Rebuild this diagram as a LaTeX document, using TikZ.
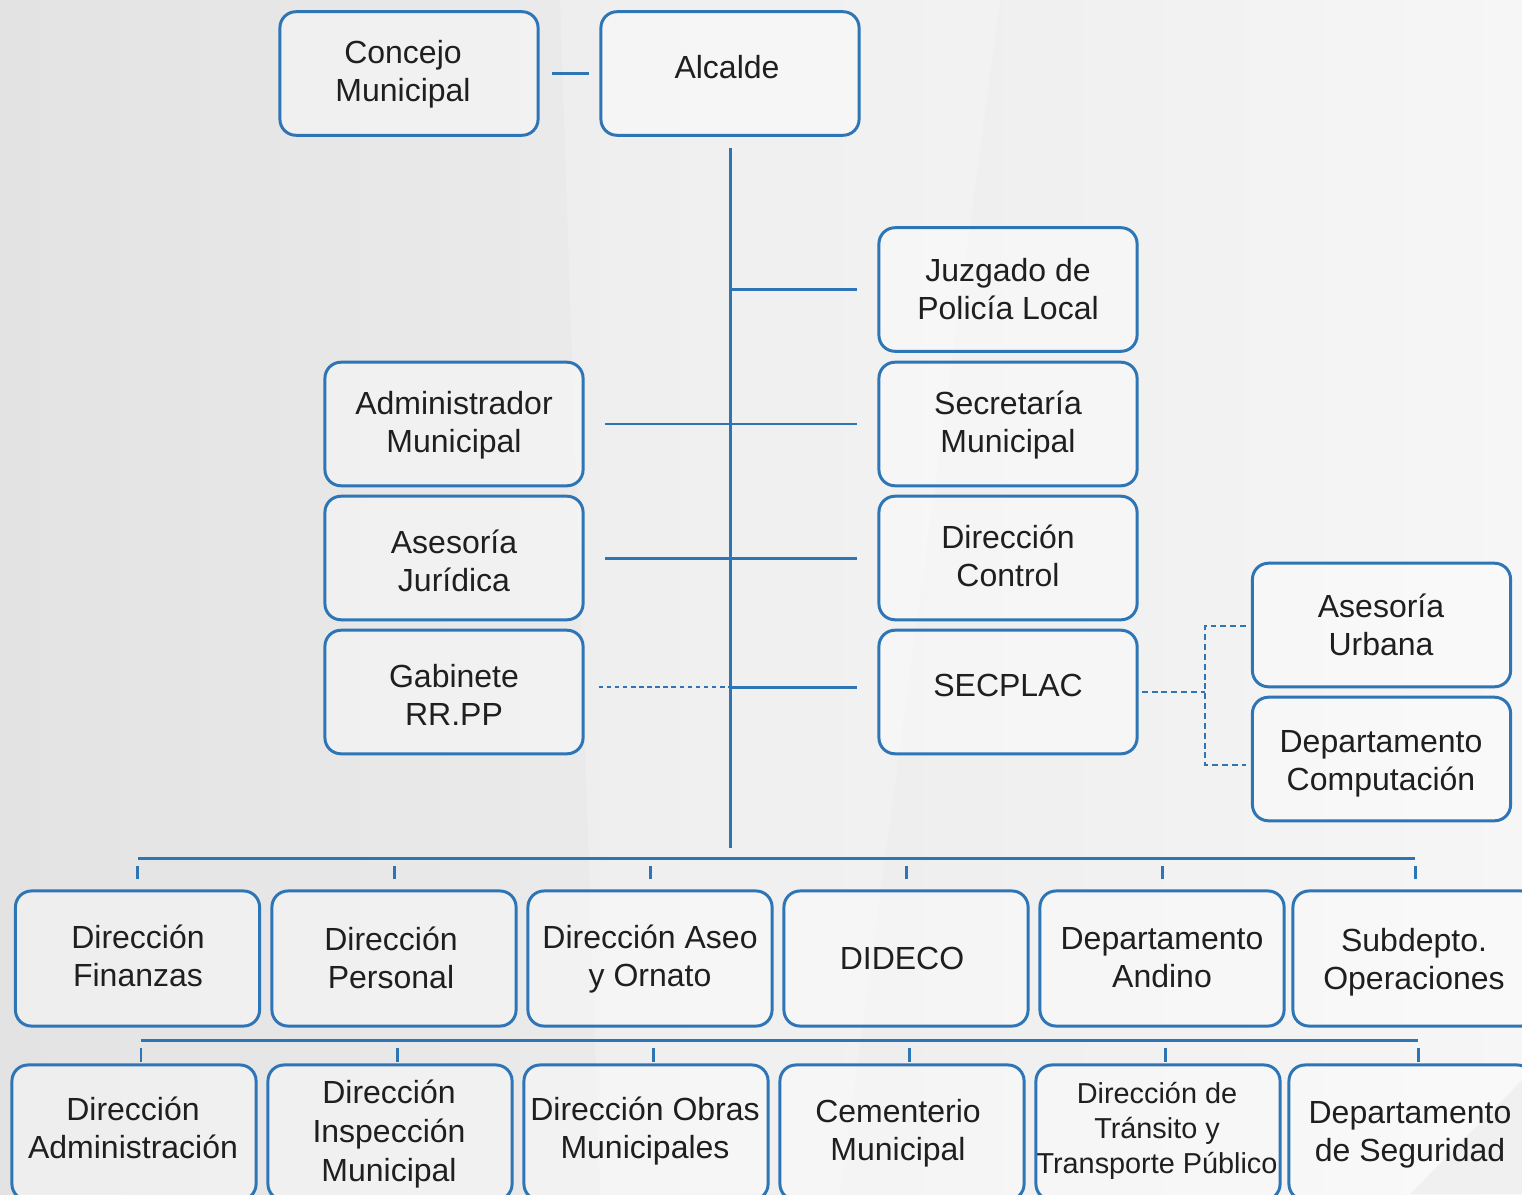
\documentclass[tikz,border=0pt]{standalone}
\usepackage{fontspec}
\setmainfont{Liberation Sans}
\usetikzlibrary{calc}
\definecolor{bblue}{HTML}{2E75B6}
\definecolor{bgl}{HTML}{E3E3E3}
\definecolor{bgr}{HTML}{F6F6F6}
\begin{document}
\begin{tikzpicture}[x=0.01cm,y=-0.01cm,
  box/.style={draw=bblue, line width=0.85pt, rounded corners=0.16cm, fill=white, fill opacity=0.4, inner sep=0},
  tb/.style={box, minimum width=2.58cm, minimum height=1.235cm},
  rb/.style={box, minimum width=2.44cm, minimum height=1.35cm},
  lbl/.style={font=\fontsize{9.1}{10.8}\selectfont, align=center, inner sep=0, text=black!88},
  slbl/.style={lbl, font=\fontsize{8.2}{10}\selectfont},
  conn/.style={draw=bblue, line width=0.85pt},
  dotl/.style={conn, line width=0.8pt, dash pattern=on 1.3pt off 1.0pt},
  dashl/.style={conn, line width=0.8pt, dash pattern=on 1.7pt off 1.1pt}]
\useasboundingbox (0,0) rectangle (1522,1194);
\clip (0,0) rectangle (1522,1194);
% background
\fill[left color=bgl, right color=bgr] (0,0) rectangle (1522,1194);
\fill[white, opacity=0.22] (560,0) -- (1000,0) -- (840,1194) -- (600,1194) -- cycle;
\fill[black, opacity=0.06] (1522,1080) -- (1522,1194) -- (1410,1194) -- cycle;
% boxes
\node[tb] (conc) at (409,73.5) {};
\node[tb] (alc) at (730,73.5) {};
\node[tb] (juz) at (1008,289.5) {};
\node[tb] (sec) at (1008,424) {};
\node[tb] (ctl) at (1008,558) {};
\node[tb] (secp) at (1008,692) {};
\node[tb] (adm) at (454,424) {};
\node[tb] (jur) at (454,558) {};
\node[tb] (gab) at (454,692) {};
\node[tb] (au) at (1381.5,625) {};
\node[tb] (dc) at (1381.5,759) {};
\node[rb] (f1) at (137.5,958.5) {};
\node[rb] (f2) at (394,958.5) {};
\node[rb] (f3) at (650,958.5) {};
\node[rb] (f4) at (906,958.5) {};
\node[rb] (f5) at (1162,958.5) {};
\node[rb] (f6) at (1415,958.5) {};
\node[rb] (a1) at (134,1132.5) {};
\node[rb] (a2) at (390,1132.5) {};
\node[rb] (a3) at (646,1132.5) {};
\node[rb] (a4) at (902,1132.5) {};
\node[rb] (a5) at (1158,1132.5) {};
\node[rb] (a6) at (1411,1132.5) {};
% labels
\node[lbl] (tconc) at (403,74) {Concejo\\Municipal};
\node[lbl] (talc) at (727,67) {Alcalde};
\node[lbl] (tjuz) at (1008,289) {Juzgado de\\Policía Local};
\node[lbl] (tsec) at (1008,425) {Secretaría\\Municipal};
\node[lbl] (tctl) at (1008,556) {Dirección\\Control};
\node[lbl] (tsecp) at (1008,685) {SECPLAC};
\node[lbl] (tadm) at (454,425) {Administrador\\Municipal};
\node[lbl] (tjur) at (454,561) {Asesoría\\Jurídica};
\node[lbl] (tgab) at (454,695) {Gabinete\\RR.PP};
\node[lbl] (tau) at (1381,625) {Asesoría\\Urbana};
\node[lbl] (tdc) at (1381,764) {Departamento\\Computación};
\node[lbl] (tf1) at (138,956) {Dirección\\Finanzas};
\node[lbl] (tf2) at (391,958) {Dirección\\Personal};
\node[lbl] (tf3) at (650,959) {Dirección Aseo\\y Ornato};
\node[lbl] (tf4) at (902,958) {DIDECO};
\node[lbl] (tf5) at (1162,958) {Departamento\\Andino};
\node[lbl] (tf6) at (1414,962) {Subdepto.\\Operaciones};
\node[lbl] (ta1) at (133,1128) {Dirección\\Administración};
\node[lbl,font=\fontsize{9.1}{11}\selectfont] (ta2) at (389,1134) {Dirección\\Inspección\\Municipal};
\node[lbl] (ta3) at (645,1131) {Dirección Obras\\Municipales};
\node[lbl] (ta4) at (898,1133) {Cementerio\\Municipal};
\node[slbl] (ta5) at (1157,1131) {Dirección de\\Tránsito y\\Transporte Público};
\node[lbl] (ta6) at (1410,1135) {Departamento\\de Seguridad};
% connectors
\draw[conn, shorten <=3.4pt, shorten >=3.1pt] (conc.east) -- (alc.west);
\coordinate (b1) at (730,858);
\draw[conn, shorten <=3.3pt, shorten >=2.85pt] (alc.south) -- (b1);
\draw[conn, shorten >=5.7pt] (alc.south |- juz.west) -- (juz.west);
\draw[conn, shorten <=5.9pt, shorten >=5.7pt] (adm.east) -- (sec.west);
\draw[conn, shorten <=5.9pt, shorten >=5.7pt] (jur.east) -- (ctl.west);
\coordinate (gj) at (730,687);
\draw[dotl, shorten <=4pt] (gab.east |- gj) -- (gj);
\draw[conn, shorten >=5.7pt] (gj) -- (secp.west |- gj);
\coordinate (sj) at (1205,692);
\coordinate (sjt) at (1205,626);
\coordinate (sjb) at (1205,765);
\draw[dashl, shorten <=0.9pt] (secp.east |- sj) -- (sj);
\draw[dashl, shorten <=1.4pt, shorten >=1.4pt] (sjt -| au.west) -- (sjt) -- (sjb) -- (sjb -| dc.west);
% row 1 bus
\draw[conn] (f1.north |- b1) -- (f6.north |- b1);
\foreach \n in {f1,f2,f3,f4,f5,f6}
  \draw[conn, shorten <=2.85pt, shorten >=2.3pt] (\n.north) -- (\n.north |- b1);
% row 2 bus
\coordinate (k1) at (141,1040);
\coordinate (k2) at (397,1040);
\coordinate (k3) at (653,1040);
\coordinate (k4) at (909,1040);
\coordinate (k5) at (1165,1040);
\coordinate (k6) at (1418,1040);
\draw[conn] (k1) -- (k6);
\foreach \k/\a in {k1/a1,k2/a2,k3/a3,k4/a4,k5/a5,k6/a6}
  \draw[conn, shorten <=2.3pt, shorten >=0.4pt] (\k) -- (\k |- \a.north);
\end{tikzpicture}
\end{document}
